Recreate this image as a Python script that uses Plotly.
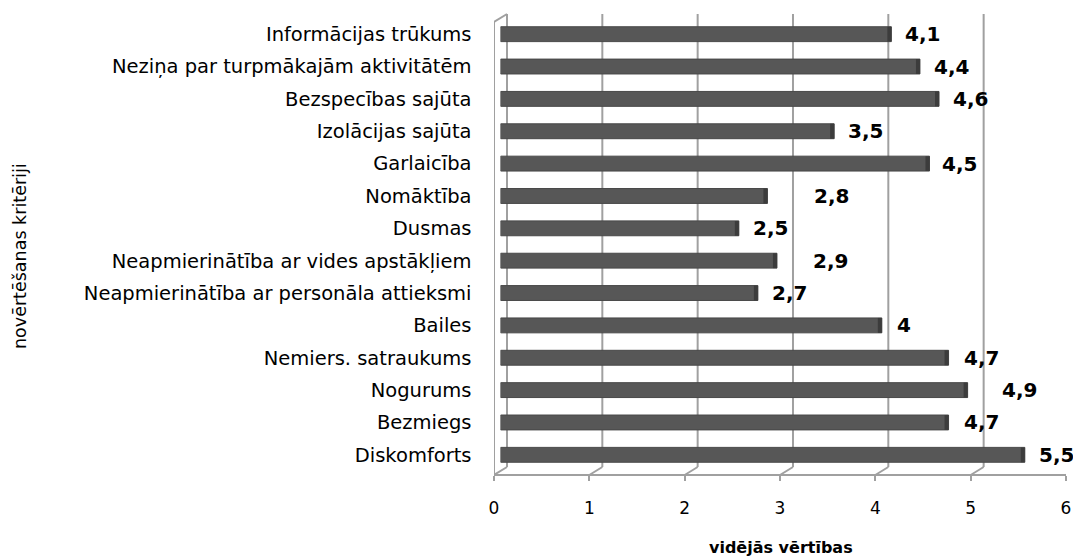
import plotly.graph_objects as go

# ---------------- data ----------------
categories = [
    "Informācijas trūkums",
    "Neziņa par turpmākajām aktivitātēm",
    "Bezspecības sajūta",
    "Izolācijas sajūta",
    "Garlaicība",
    "Nomāktība",
    "Dusmas",
    "Neapmierinātība ar vides apstākļiem",
    "Neapmierinātība ar personāla attieksmi",
    "Bailes",
    "Nemiers. satraukums",
    "Nogurums",
    "Bezmiegs",
    "Diskomforts",
]
values = [4.1, 4.4, 4.6, 3.5, 4.5, 2.8, 2.5, 2.9, 2.7, 4.0, 4.7, 4.9, 4.7, 5.5]
x_ticks = [0, 1, 2, 3, 4, 5, 6]
x_title = "vidējās vērtības"
y_title = "novērtēšanas kritēriji"

# ---------------- style ----------------
W, H = 1073, 558
PAGE_OFF = 0                     # body margin removed via post_script
label_pad = [12, 12, 12, 12, 11, 45, 12, 34, 12, 13, 13, 32, 13, 12]  # px gap of data labels
FRONT_X0, UNIT = 494, 95.33      # pixel of value 0 on front axis, px per unit
DEPTH_X, DEPTH_Y = 13, 8         # 3-D depth offset
FLOOR_Y, TOP_Y = 475, 22         # front floor / front top (px)
GRID = "#a0a0a0"
BAR = "#575757"


def fx(px):
    return (px - PAGE_OFF) / W


def fy(py):
    return 1 - (py - PAGE_OFF) / H


def fmt(v):
    return f"{v:g}".replace(".", ",")


n = len(categories)
fig = go.Figure()

fig.add_trace(go.Bar(
    x=values, y=categories, orientation="h",
    marker=dict(color=BAR, line=dict(color="#484848", width=1)),
    width=0.46, hoverinfo="x+y", xaxis="x", yaxis="y",
))
# invisible trace so the front (labelled) axis is drawn
fig.add_trace(go.Scatter(x=[0, 6], y=[categories[0], categories[0]], xaxis="x2", yaxis="y",
                         mode="markers", marker=dict(opacity=0), hoverinfo="skip",
                         showlegend=False))

shapes = []
for v in x_ticks:
    # back-wall vertical gridlines
    shapes.append(dict(type="line", xref="x2", xsizemode="pixel", xanchor=v,
                       x0=DEPTH_X, x1=DEPTH_X, yref="paper",
                       y0=fy(FLOOR_Y - DEPTH_Y), y1=fy(TOP_Y - DEPTH_Y),
                       line=dict(color=GRID, width=2), layer="below"))
    # floor diagonals
    shapes.append(dict(type="line", xref="x2", xsizemode="pixel", xanchor=v,
                       x0=0, x1=DEPTH_X, yref="paper",
                       y0=fy(FLOOR_Y), y1=fy(FLOOR_Y - DEPTH_Y),
                       line=dict(color=GRID, width=2), layer="below"))
# front left wall edge and its top diagonal
shapes.append(dict(type="line", xref="x2", xsizemode="pixel", xanchor=0, x0=0, x1=0,
                   yref="paper", y0=fy(FLOOR_Y), y1=fy(TOP_Y),
                   line=dict(color=GRID, width=2), layer="below"))
shapes.append(dict(type="line", xref="x2", xsizemode="pixel", xanchor=0, x0=0, x1=DEPTH_X,
                   yref="paper", y0=fy(TOP_Y), y1=fy(TOP_Y - DEPTH_Y),
                   line=dict(color=GRID, width=2), layer="below"))
# bar end caps (3-D face)
for i, v in enumerate(values):
    shapes.append(dict(type="rect", xref="x", xsizemode="pixel", xanchor=v, x0=-4, x1=0,
                       yref="y", y0=i - 0.23, y1=i + 0.23,
                       fillcolor="#3c3c3c", line=dict(width=0), layer="above"))

annotations = []
for i, (c, v) in enumerate(zip(categories, values)):
    annotations.append(dict(x=v, y=c, xref="x", yref="y", text=fmt(v), showarrow=False,
                            xanchor="left", yanchor="middle", xshift=label_pad[i],
                            font=dict(family="DejaVu Sans", size=20, color="black",
                                      weight="bold")))
annotations.append(dict(x=fx(20), y=fy(256), xref="paper", yref="paper", text=y_title,
                        textangle=-90, showarrow=False, xanchor="center", yanchor="middle",
                        font=dict(family="DejaVu Sans", size=17.5, color="black")))
annotations.append(dict(x=fx(781), y=fy(547), xref="paper", yref="paper", text=x_title,
                        showarrow=False, xanchor="center", yanchor="middle", borderpad=0,
                        font=dict(family="DejaVu Sans", size=16, color="black",
                                  weight="bold")))

fig.update_layout(
    width=W, height=H, autosize=False,
    margin=dict(l=0, r=0, t=0, b=0, pad=0, autoexpand=False),
    paper_bgcolor="white", plot_bgcolor="rgba(0,0,0,0)",
    showlegend=False, bargap=0.5,
    xaxis=dict(domain=[fx(FRONT_X0 + DEPTH_X / 2), fx(FRONT_X0 + DEPTH_X / 2 + 6 * UNIT)],
               range=[0, 6], visible=False, fixedrange=True, automargin=False),
    xaxis2=dict(domain=[fx(FRONT_X0), fx(FRONT_X0 + 6 * UNIT)], range=[0, 6],
                anchor="free", position=fy(FLOOR_Y), tickvals=x_ticks,
                ticks="outside", ticklen=5, tickwidth=2, tickcolor=GRID,
                showline=True, linecolor=GRID, linewidth=2, showgrid=False,
                zeroline=False, ticklabelstandoff=13, automargin=False,
                ticklabeloverflow="allow",
                tickfont=dict(family="DejaVu Sans", size=17, color="black")),
    yaxis=dict(domain=[fy(FLOOR_Y - DEPTH_Y / 2), fy(TOP_Y - DEPTH_Y / 2)],
               type="category", categoryarray=categories, categoryorder="array",
               range=[n - 0.5, -0.5], showgrid=False, zeroline=False, showline=False,
               ticks="", ticklabelstandoff=28, automargin=False,
               tickfont=dict(family="DejaVu Sans", size=19.5, color="black")),
    shapes=shapes, annotations=annotations,
)

fig.write_html("out.html", config={"displayModeBar": False},
               post_script="document.body.style.margin='0';")
